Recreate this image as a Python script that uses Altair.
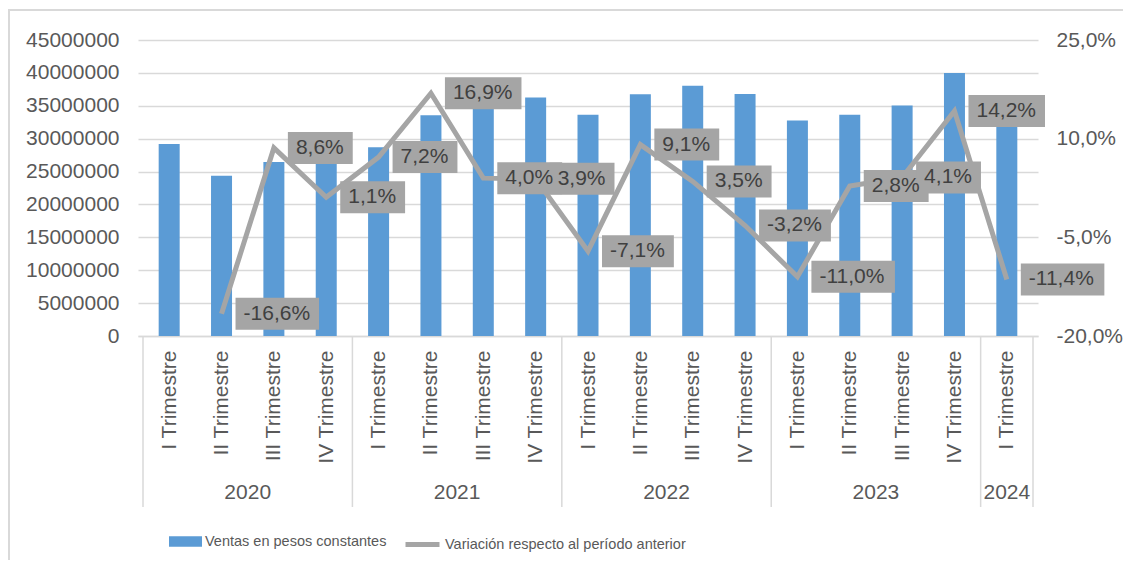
import altair as alt
import pandas as pd

# ---------------- data ----------------
quarters = ["I Trimestre", "II Trimestre", "III Trimestre", "IV Trimestre",
            "I Trimestre", "II Trimestre", "III Trimestre", "IV Trimestre",
            "I Trimestre", "II Trimestre", "III Trimestre", "IV Trimestre",
            "I Trimestre", "II Trimestre", "III Trimestre", "IV Trimestre",
            "I Trimestre"]
years = [2020, 2020, 2020, 2020,
         2021, 2021, 2021, 2021,
         2022, 2022, 2022, 2022,
         2023, 2023, 2023, 2023,
         2024]
ventas = [29200000, 24350000, 26450000, 26750000,
          28700000, 33550000, 34900000, 36250000,
          33650000, 36750000, 38050000, 36800000,
          32750000, 33650000, 35050000, 40000000,
          35450000]
variacion = [None, -16.6, 8.6, 1.1,
             7.2, 16.9, 4.0, 3.9,
             -7.1, 9.1, 3.5, -3.2,
             -11.0, 2.8, 4.1, 14.2,
             -11.4]
left_ticks = [0, 5000000, 10000000, 15000000, 20000000, 25000000,
              30000000, 35000000, 40000000, 45000000]
right_ticks = [-20, -5, 10, 25]
serie_barras = "Ventas en pesos constantes"
serie_linea = "Variación respecto al período anterior"

# ---------------- styles ----------------
BLUE = "#5B9BD5"
GRAY = "#A5A5A5"
TXT = "#595959"
LBL = "#404040"
GRID = "#D9D9D9"
FONT = "Liberation Sans"
FS = 21
W, H = 900, 296

n = len(quarters)
df = pd.DataFrame({
    "pos": [i + 0.5 for i in range(n)],
    "trim": quarters,
    "anio": years,
    "ventas": ventas,
    "var": variacion,
})
df["serie_b"] = serie_barras
df["serie_l"] = serie_linea


def fmt(v):
    if v is None or pd.isna(v):
        return None
    return f"{v:.1f}".replace(".", ",") + "%"


cw = {",": 0.278, "%": 0.889, "-": 0.333}
df["lbl"] = [fmt(v) for v in df["var"]]
df["bw"] = [None if s is None else FS * sum(cw.get(c, 0.556) for c in s) + 17
            for s in df["lbl"]]

grp = df.groupby("anio")["pos"].agg(["min", "max"]).reset_index()
grp["center"] = (grp["min"] + grp["max"]) / 2
bounds = sorted(set(list(grp["min"] - 0.5) + list(grp["max"] + 0.5)))
df_b = pd.DataFrame({"b": bounds})
df_y = pd.DataFrame({"c": grp["center"], "anio": grp["anio"].astype(str)})

label_arr = "[" + ",".join("'%s'" % q for q in quarters) + "]"
xscale = alt.Scale(domain=[0, n], nice=False, zero=False)
xaxis = alt.Axis(values=list(df["pos"]), labelExpr=label_arr + "[floor(datum.value)]",
                 labelAngle=270, labelFontSize=FS, labelFont=FONT, labelColor=TXT,
                 ticks=False, grid=False, domainColor=GRID, domainWidth=1.5,
                 labelPadding=14, labelOverlap=False, title=None)

yl_scale = alt.Scale(domain=[0, 45000000], nice=False)
yl_axis = alt.Axis(values=left_ticks, format="d", labelFontSize=FS, labelFont=FONT,
                   labelColor=TXT, labelPadding=19, ticks=False, domain=False,
                   gridColor=GRID, gridWidth=1.5, title=None)
yr_scale = alt.Scale(domain=[-20, 25], nice=False, zero=False)
yr_axis = alt.Axis(orient="right", values=right_ticks,
                   labelExpr="(datum.value < 0 ? '-' : '') + replace(format(abs(datum.value), '.1f'), '.', ',') + '%'",
                   labelFontSize=FS, labelFont=FONT, labelColor=TXT, labelPadding=18,
                   ticks=False, domain=False, grid=False, title=None)

LEG_FONT = FONT
LEG_FS = 14.5

base = alt.Chart(df)

border = alt.Chart(pd.DataFrame({"k": [0]})).mark_rect(
    filled=False, stroke=GRID, strokeWidth=2
).encode(x=alt.value(-129), x2=alt.value(W + 200), y=alt.value(-30), y2=alt.value(H + 400))

bars = base.mark_bar(size=21).encode(
    x=alt.X("pos:Q", scale=xscale, axis=xaxis),
    y=alt.Y("ventas:Q", scale=yl_scale, axis=yl_axis),
    fill=alt.Fill("serie_b:N", scale=alt.Scale(domain=[serie_barras], range=[BLUE]),
                  legend=alt.Legend(title=None, orient="none", legendX=31, legendY=485,
                                    symbolType="M-1,-0.32H1V0.32H-1Z", symbolSize=1089,
                                    symbolStrokeWidth=0, labelFont=LEG_FONT,
                                    labelFontSize=LEG_FS, labelColor=TXT, labelOffset=3,
                                    labelLimit=0)),
)

seps = alt.Chart(df_b).mark_rule(color=GRID, strokeWidth=1.5).encode(
    x=alt.X("b:Q", scale=xscale, axis=xaxis),
    y=alt.value(H), y2=alt.value(H + 171),
)

yrs = alt.Chart(df_y).mark_text(fontSize=FS, font=FONT, color=TXT, baseline="middle").encode(
    x=alt.X("c:Q", scale=xscale, axis=xaxis),
    y=alt.value(H + 157),
    text="anio:N",
)

left = alt.layer(border, bars, seps, yrs)

valid = base.transform_filter("isValid(datum['var'])")

line = valid.mark_line(strokeWidth=5).encode(
    x=alt.X("pos:Q", scale=xscale, axis=xaxis),
    y=alt.Y("var:Q", scale=yr_scale, axis=yr_axis),
    stroke=alt.Stroke("serie_l:N", scale=alt.Scale(domain=[serie_linea], range=[GRAY]),
                      legend=alt.Legend(title=None, orient="none", legendX=265, legendY=485,
                                        symbolType="stroke", symbolSize=1156,
                                        symbolStrokeWidth=5, labelFont=LEG_FONT,
                                        labelFontSize=LEG_FS, labelColor=TXT, labelOffset=3,
                                        labelLimit=0)),
)

boxes = valid.mark_rect(color=GRAY, xOffset=14, x2Offset=alt.expr("14 + datum.bw"),
                        yOffset=-16, y2Offset=16).encode(
    x=alt.X("pos:Q", scale=xscale, axis=xaxis),
    x2="pos:Q",
    y=alt.Y("var:Q", scale=yr_scale, axis=yr_axis),
    y2="var:Q",
)

texts = valid.mark_text(align="left", baseline="middle", dx=22, fontSize=FS,
                        font=FONT, color=LBL).encode(
    x=alt.X("pos:Q", scale=xscale, axis=xaxis),
    y=alt.Y("var:Q", scale=yr_scale, axis=yr_axis),
    text="lbl:N",
)

right = alt.layer(line, boxes, texts)

chart = alt.layer(left, right).resolve_scale(y="independent").properties(
    width=W, height=H,
    padding={"left": 130, "top": 32, "right": 85, "bottom": 224},
    autosize=alt.AutoSizeParams(type="none"),
    background="white",
).configure_view(stroke=None)

chart.save("out.html", embed_options={"renderer": "svg", "actions": False})
